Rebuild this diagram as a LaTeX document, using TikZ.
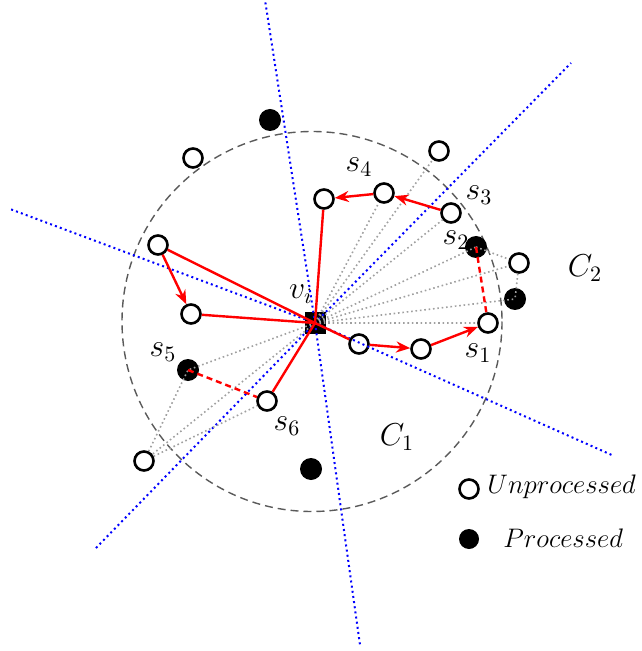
\documentclass[tikz,border=0pt]{standalone}
\usetikzlibrary{arrows.meta}
\definecolor{cone}{RGB}{0,0,255}
\definecolor{scan}{RGB}{160,160,160}
\definecolor{rim}{RGB}{90,90,90}
\definecolor{walk}{RGB}{255,0,0}
\newcommand{\legword}[1]{\scalebox{.93}{\Large$#1$}}
\newcommand{\sym}[1]{\scalebox{1.1}{\Large$#1$}}

\begin{document}
\begin{tikzpicture}[x=.5pt,y=-.5pt,
  open/.style={circle,draw=black,line width=1.3pt,minimum size=9.5pt,inner sep=0pt},
  done/.style={circle,fill=black,minimum size=11pt,inner sep=0pt},
  tag/.style={inner sep=1pt},
  legtext/.style={anchor=west,inner sep=0pt},
  ray/.style={draw=cone,line width=1pt,dash pattern=on 1pt off 1.6pt},
  sight/.style={draw=scan,line width=.8pt,dash pattern=on .8pt off 1.4pt},
  hop/.style={draw=walk,line width=1.2pt},
  move/.style={hop,-{Stealth[length=7pt,width=5.5pt]}},
  skip/.style={draw=walk,line width=1.2pt,dash pattern=on 3pt off 2pt}
]
\useasboundingbox (0,0) rectangle (641,651);
% cone borders and search circle
\coordinate (rimc) at (312,321.5);
\coordinate (n1) at (265,0);
\coordinate (n2) at (360,645);
\coordinate (w1) at (10,209);
\coordinate (e1) at (614,456);
\coordinate (ne) at (571,63);
\coordinate (sw) at (94,550);
\draw[rim,line width=.7pt,dash pattern=on 4pt off 2.5pt] (rimc) circle (190);

\node[fill=black,minimum size=10.5pt,inner sep=0pt] (vi) at (315,323) {};
\node[tag] (vilab) at (301,294) {\sym{v_i}};

% points
\node[open] (ul) at (193,158) {};
\node[open] (lt) at (158,245) {};
\node[open] (lm) at (191,314) {};
\node[open] (t4) at (324,199) {};
\node[open] (s4) at (384,193) {};
\node[open] (top) at (439,151) {};
\node[open] (s3) at (451,213) {};
\node[open] (rt) at (519,263) {};
\node[open] (s1) at (488,323) {};
\node[open] (q2) at (421,349) {};
\node[open] (q1) at (359,344) {};
\node[open] (s6) at (267,401) {};
\node[open] (bl) at (144,461) {};
\node[done] (f1) at (270,120) {};
\node[done] (s2) at (476,247) {};
\node[done] (f2) at (515,299) {};
\node[done] (s5) at (188,370) {};
\node[done] (f3) at (311,469) {};

\draw[ray] (vi.center)--(n1) (vi.center)--(n2) (vi.center)--(w1)
  (vi.center)--(e1) (vi.center)--(ne) (vi.center)--(sw);

\draw[sight] (vi.center)--(s4) (vi.center)--(top) (vi.center)--(s3)
  (vi.center)--(s2.center) (vi.center)--(rt) (vi.center)--(f2.center)
  (vi.center)--(s1) (vi.center)--(s5.center) (vi.center)--(bl);
\draw[sight] (bl)--(s5.center) (bl)--(s6) (s2.center)--(rt) (rt)--(f2.center);

\draw[hop] (vi.center)--(t4) (vi.center)--(lt) (vi.center)--(lm)
  (vi.center)--(q1) (vi.center)--(s6);
\draw[move] (s3)--(s4);
\draw[move] (s4)--(t4);
\draw[move] (lt)--(lm);
\draw[move] (q1)--(q2);
\draw[move] (q2)--(s1);
\draw[skip] (s2.center)--(s1);
\draw[skip] (s5.center)--(s6);

\node[tag] (l1) at (478,353) {\sym{s_1}};
\node[tag] (l2) at (456,240) {\sym{s_2}};
\node[tag] (l3) at (479,195) {\sym{s_3}};
\node[tag] (l4) at (359,167) {\sym{s_4}};
\node[tag] (l5) at (163,352) {\sym{s_5}};
\node[tag] (l6) at (287,426) {\sym{s_6}};
\node[tag] (c1) at (397,437) {\sym{C_1}};
\node[tag] (c2) at (585,268) {\sym{C_2}};

% legend
\node[open] (leg1) at (469,489) {};
\node[legtext] (leg1t) at (487,487) {\legword{Unprocessed}};
\node[done,minimum size=10pt] (leg2) at (469,539) {};
\node[legtext] (leg2t) at (503,538) {\legword{Processed}};
\end{tikzpicture}
\end{document}
